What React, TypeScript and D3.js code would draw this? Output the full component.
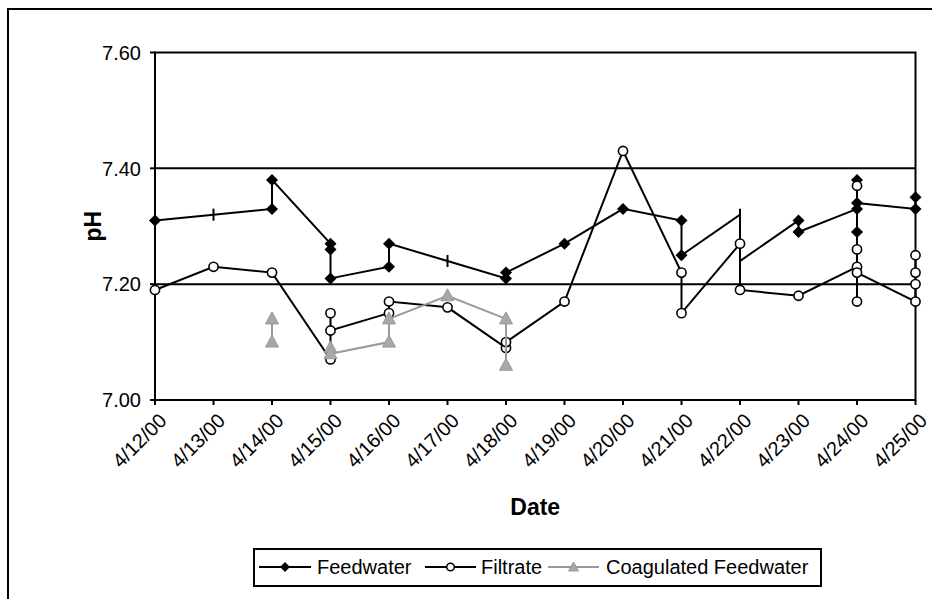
import React from 'react';
import * as d3 from 'd3';

// categories on the x axis
const dates = [
    '4/12/00', '4/13/00', '4/14/00', '4/15/00', '4/16/00', '4/17/00', '4/18/00',
    '4/19/00', '4/20/00', '4/21/00', '4/22/00', '4/23/00', '4/24/00', '4/25/00',
];
const yTicks = [7.0, 7.2, 7.4, 7.6];
const gridValues = [7.2, 7.4];

// Feedwater readings, in the order they are joined ('d' = diamond, '-' = dash mark)
const feedDate = [
    '4/12/00', '4/13/00', '4/14/00', '4/14/00', '4/15/00', '4/15/00', '4/15/00',
    '4/16/00', '4/16/00', '4/17/00', '4/18/00', '4/18/00', '4/19/00', '4/20/00',
    '4/21/00', '4/21/00', '4/22/00', '4/22/00', '4/23/00', '4/23/00', '4/24/00',
    '4/24/00', '4/24/00', '4/24/00', '4/25/00', '4/25/00',
];
const feedPH = [
    7.31, 7.32, 7.33, 7.38, 7.27, 7.26, 7.21,
    7.23, 7.27, 7.24, 7.21, 7.22, 7.27, 7.33,
    7.31, 7.25, 7.32, 7.24, 7.31, 7.29, 7.33,
    7.29, 7.38, 7.34, 7.33, 7.35,
];
const feedMark = [
    'd', '-', 'd', 'd', 'd', 'd', 'd',
    'd', 'd', '-', 'd', 'd', 'd', 'd',
    'd', 'd', '-', '-', 'd', 'd', 'd',
    'd', 'd', 'd', 'd', 'd',
];

// Filtrate readings
const filtDate = [
    '4/12/00', '4/13/00', '4/14/00', '4/15/00', '4/15/00', '4/15/00', '4/16/00',
    '4/16/00', '4/17/00', '4/18/00', '4/18/00', '4/19/00', '4/20/00', '4/21/00',
    '4/21/00', '4/22/00', '4/22/00', '4/23/00', '4/24/00', '4/24/00', '4/24/00',
    '4/24/00', '4/24/00', '4/25/00', '4/25/00', '4/25/00', '4/25/00',
];
const filtPH = [
    7.19, 7.23, 7.22, 7.07, 7.15, 7.12, 7.15,
    7.17, 7.16, 7.09, 7.10, 7.17, 7.43, 7.22,
    7.15, 7.27, 7.19, 7.18, 7.23, 7.17, 7.37,
    7.26, 7.22, 7.17, 7.25, 7.22, 7.20,
];

// Coagulated Feedwater readings (null = break in the line)
const coagDate = [
    '4/14/00', '4/14/00', '4/15/00', '4/15/00', '4/15/00', '4/16/00', '4/16/00',
    '4/17/00', '4/18/00', '4/18/00',
];
const coagPH: (number | null)[] = [
    7.14, 7.10, null, 7.09, 7.08, 7.10, 7.14,
    7.18, 7.14, 7.06,
];

const legendItems = ['Feedwater', 'Filtrate', 'Coagulated Feedwater'];

const font = '"Liberation Sans", Arial, sans-serif';
const GRAY = '#999999';
const TRI_FILL = '#a8a8a8';

const diamond = 'M0,-6L6,0L0,6L-6,0Z';
const triangle = 'M0,-7L6.5,5L-6.5,5Z';

const App: React.FC = () => {
    const width = 932;
    const height = 599;
    const plot = { left: 155, right: 915.5, top: 52.5, bottom: 400 };

    const x = d3.scalePoint<string>().domain(dates).range([plot.left, plot.right]);
    const y = d3.scaleLinear().domain([7.0, 7.6]).range([plot.bottom, plot.top]);

    const lineOf = (ds: string[], vs: (number | null)[]) =>
        d3
            .line<number>()
            .defined(i => vs[i] !== null)
            .x(i => x(ds[i]) as number)
            .y(i => y(vs[i] as number))(d3.range(vs.length)) || '';

    const feedPath = lineOf(feedDate, feedPH);
    const filtPath = lineOf(filtDate, filtPH);
    const coagPath = lineOf(coagDate, coagPH);

    // legend layout
    const legY = 567;
    const legSamples = [
        { x0: 259, x1: 311, tx: 317 },
        { x0: 425, x1: 476, tx: 481 },
        { x0: 548, x1: 599, tx: 606 },
    ];

    return (
        <svg
            width={width}
            height={height}
            style={{ position: 'absolute', left: 0, top: 0, background: '#fff' }}
            fontFamily={font}
        >
            {/* outer chart frame */}
            <rect x={8} y={9} width={960} height={640} fill="#fff" stroke="#000" strokeWidth={2} />

            {/* grid lines */}
            {gridValues.map(v => (
                <line key={v} x1={plot.left} x2={plot.right} y1={y(v)} y2={y(v)} stroke="#000" strokeWidth={2} />
            ))}
            {/* plot frame */}
            <rect
                x={plot.left}
                y={plot.top}
                width={plot.right - plot.left}
                height={plot.bottom - plot.top}
                fill="none"
                stroke="#000"
                strokeWidth={2}
            />

            {/* y axis */}
            {yTicks.map(v => (
                <g key={v}>
                    <line x1={plot.left - 5} x2={plot.left} y1={y(v)} y2={y(v)} stroke="#000" strokeWidth={2} />
                    <text x={141} y={y(v)} dy="0.36em" textAnchor="end" fontSize={20} fill="#000">
                        {v.toFixed(2)}
                    </text>
                </g>
            ))}
            <text
                transform={`translate(101,${(plot.top + plot.bottom) / 2}) rotate(-90)`}
                textAnchor="middle"
                fontSize={23}
                fontWeight="bold"
            >
                pH
            </text>

            {/* x axis */}
            {dates.map(d => (
                <g key={d}>
                    <line x1={x(d)} x2={x(d)} y1={plot.bottom} y2={plot.bottom + 5} stroke="#000" strokeWidth={2} />
                    <text
                        transform={`translate(${(x(d) as number) + 3},${plot.bottom + 12}) rotate(-45)`}
                        textAnchor="end"
                        dy="0.7em"
                        fontSize={20}
                    >
                        {d}
                    </text>
                </g>
            ))}
            <text x={(plot.left + plot.right) / 2} y={515} textAnchor="middle" fontSize={23} fontWeight="bold">
                Date
            </text>

            {/* Feedwater */}
            <path d={feedPath} fill="none" stroke="#000" strokeWidth={2} />
            {feedPH.map((v, i) =>
                feedMark[i] === 'd' ? (
                    <path key={i} d={diamond} transform={`translate(${x(feedDate[i])},${y(v)})`} fill="#000" />
                ) : (
                    <line
                        key={i}
                        x1={x(feedDate[i])}
                        x2={x(feedDate[i])}
                        y1={y(v) - 6}
                        y2={y(v) + 6}
                        stroke="#000"
                        strokeWidth={2}
                    />
                )
            )}

            {/* Filtrate */}
            <path d={filtPath} fill="none" stroke="#000" strokeWidth={2} />
            {filtPH.map((v, i) => (
                <circle key={i} cx={x(filtDate[i])} cy={y(v)} r={4.6} fill="#fff" stroke="#000" strokeWidth={1.6} />
            ))}

            {/* Coagulated Feedwater */}
            <path d={coagPath} fill="none" stroke={GRAY} strokeWidth={2} />
            {coagPH.map((v, i) =>
                v === null ? null : (
                    <path
                        key={i}
                        d={triangle}
                        transform={`translate(${x(coagDate[i])},${y(v)})`}
                        fill={TRI_FILL}
                        stroke={GRAY}
                        strokeWidth={1}
                    />
                )
            )}

            {/* legend */}
            <rect x={254} y={549} width={567} height={37} fill="#fff" stroke="#000" strokeWidth={2} />
            {legendItems.map((name, i) => {
                const s = legSamples[i];
                const cx = (s.x0 + s.x1) / 2;
                return (
                    <g key={name}>
                        <line x1={s.x0} x2={s.x1} y1={legY} y2={legY} stroke={i === 2 ? GRAY : '#000'} strokeWidth={2} />
                        {i === 0 && <path d="M0,-5L5,0L0,5L-5,0Z" transform={`translate(${cx},${legY})`} fill="#000" />}
                        {i === 1 && <circle cx={cx} cy={legY} r={3.8} fill="#fff" stroke="#000" strokeWidth={1.5} />}
                        {i === 2 && (
                            <path d="M0,-5L5,4L-5,4Z" transform={`translate(${cx},${legY})`} fill={TRI_FILL} stroke={GRAY} />
                        )}
                        <text x={s.tx} y={legY} dy="0.36em" fontSize={20}>
                            {name}
                        </text>
                    </g>
                );
            })}
        </svg>
    );
};

export default App;
